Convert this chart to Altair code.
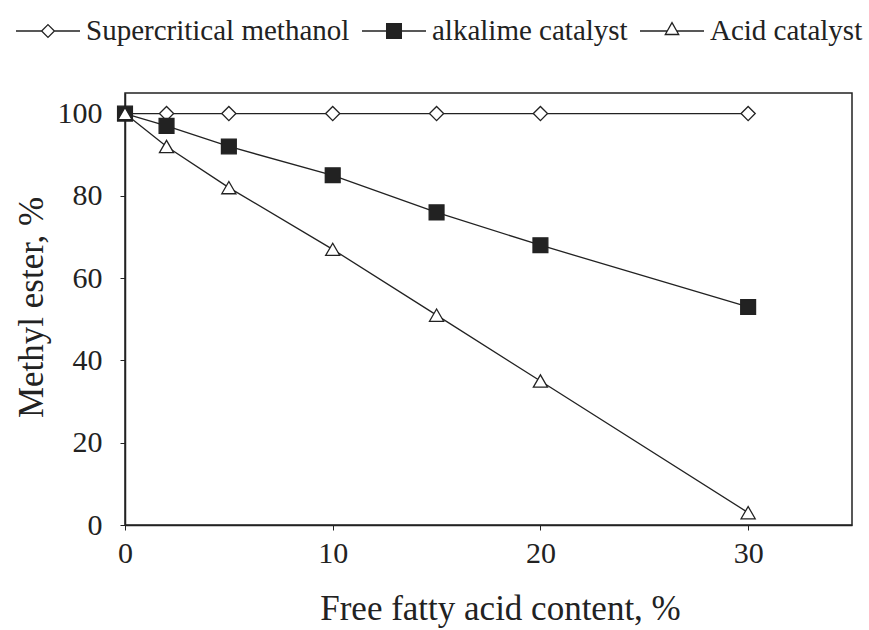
import altair as alt
import pandas as pd

# ---- data ----
ffa = [0, 2, 5, 10, 15, 20, 30]
supercritical = [100, 100, 100, 100, 100, 100, 100]
alkaline = [100, 97, 92, 85, 76, 68, 53]
acid = [100, 92, 82, 67, 51, 35, 3]
series_names = ["Supercritical methanol", "alkalime catalyst", "Acid catalyst"]
x_ticks = [0, 10, 20, 30]
y_ticks = [0, 20, 40, 60, 80, 100]

rows = []
for name, vals in zip(series_names, [supercritical, alkaline, acid]):
    for xv, yv in zip(ffa, vals):
        rows.append({"ffa": xv, "ester": yv, "series": name})
df = pd.DataFrame(rows)

INK = "#222222"
FONT = "Liberation Serif"

x_enc = alt.X(
    "ffa:Q",
    scale=alt.Scale(domain=[0, 35], nice=False, zero=False),
    axis=alt.Axis(
        values=x_ticks, title="Free fatty acid content, %", labelPadding=8,
        tickSize=5, titleX=375, titleY=66, titleAlign="center", titleBaseline="top",
        labelFlush=False,
    ),
)
y_enc = alt.Y(
    "ester:Q",
    scale=alt.Scale(domain=[0, 105], nice=False),
    axis=alt.Axis(
        values=y_ticks, title="Methyl ester, %", labelPadding=18, tickSize=5,
        titleX=-94, titleY=214, titleAngle=270, titleAlign="center",
        titleBaseline="middle", labelFlush=False,
    ),
)

base = alt.Chart(df)

lines = base.mark_line(color=INK, strokeWidth=1.3).encode(
    x=x_enc, y=y_enc, detail="series:N"
)

marker_shapes = ["diamond", "square", "triangle-up"]
marker_fills = ["white", INK, "white"]
marker_sizes = [200, 220, 200]
point_layers = []
for name, shp, fc, sz in zip(series_names, marker_shapes, marker_fills, marker_sizes):
    point_layers.append(
        base.transform_filter(alt.datum.series == name)
        .mark_point(shape=shp, fill=fc, filled=True, stroke=INK, strokeWidth=1.3,
                    size=sz, opacity=1)
        .encode(x=x_enc, y=y_enc)
    )

# legend symbols: line segment with marker, in a [-1, 1] box
legend_paths = [
    "M-1,0L-0.2,0M0.2,0L1,0M0,-0.2L0.2,0L0,0.2L-0.2,0Z",
    "M-1,0L-0.23,0M0.23,0L1,0M-0.23,-0.23L0.23,-0.23L0.23,0.23L-0.23,0.23Z",
    "M-1,0L-0.15,0M0.15,0L1,0M0,-0.26L0.21,0.11L-0.21,0.11Z",
]
leg = dict(
    title=None, orient="none", legendX=-110, legendY=-95, direction="horizontal",
    labelFont=FONT, labelFontSize=29, labelColor=INK, labelOffset=5,
    columnPadding=9, symbolSize=4096, symbolStrokeWidth=1.3, symbolOpacity=1,
    padding=0, labelLimit=400,
)
legend_layer = (
    base.transform_filter("false")
    .mark_point(filled=True, strokeWidth=1.3, opacity=1)
    .encode(
        x=x_enc, y=y_enc,
        shape=alt.Shape("series:N", scale=alt.Scale(domain=series_names, range=legend_paths),
                        legend=alt.Legend(**leg)),
        fill=alt.Fill("series:N", scale=alt.Scale(domain=series_names, range=marker_fills),
                      legend=alt.Legend(**leg)),
        stroke=alt.Stroke("series:N", scale=alt.Scale(domain=series_names, range=[INK, INK, INK]),
                          legend=alt.Legend(**leg)),
    )
)

chart = (
    alt.layer(lines, *point_layers, legend_layer)
    .properties(
        width=727, height=432,
        autosize=alt.AutoSizeParams(type="none"),
        padding={"left": 125, "top": 93, "right": 17, "bottom": 105},
        background="white",
    )
    .configure_view(stroke=INK, strokeWidth=1.5)
    .configure_axis(
        grid=False, domainColor=INK, domainWidth=1.5, tickColor=INK, tickWidth=1,
        labelFont=FONT, labelFontSize=30, labelColor=INK,
        titleFont=FONT, titleFontSize=35, titleFontWeight="normal", titleColor=INK,
    )
)

chart.save("out.html", embed_options={"renderer": "svg", "actions": False})
